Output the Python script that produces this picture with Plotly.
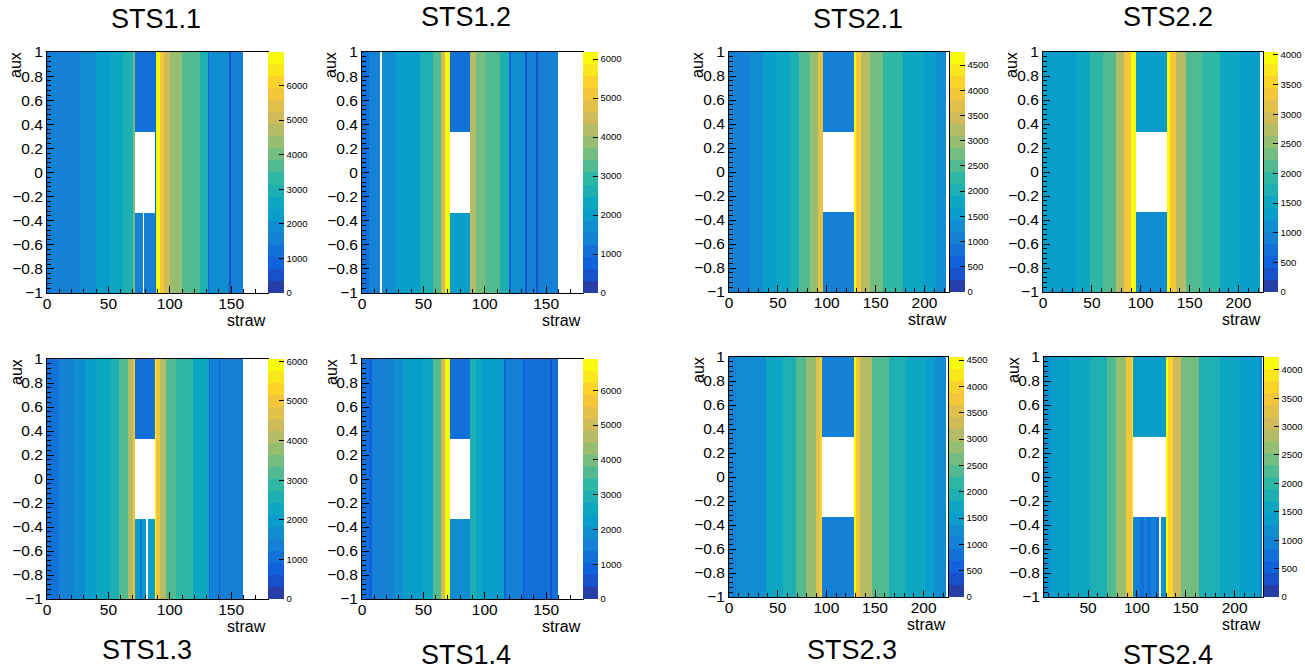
import plotly.graph_objects as go

W, H = 1305, 669

# ------------------------------------------------------------------ data
titles = ["STS1.1", "STS1.2", "STS2.1", "STS2.2", "STS1.3", "STS1.4", "STS2.3", "STS2.4"]
aux_edges = [-1.0, -1.0 / 3.0, 1.0 / 3.0, 1.0]

# STS1.1
sts11_edges = [0, 2, 10, 27, 40, 51, 62, 70, 72, 88, 89, 92, 95, 100, 110, 125, 131, 132, 148, 150, 160, 180]
sts11_vals = [1100, 1450, 1700, 2050, 2300, 2700, 3100, 3900, None, 700, 6700, 5900, 5000, 4200, 3500, 3000,
              900, 2000, 500, 1400, None]
sts11_gap_edges = [72, 78, 79, 88]
sts11_gap_top = [1250, 1250, 1250]
sts11_gap_bottom = [1400, None, 1450]
sts11_zmax = 6970

# STS1.2
sts12_edges = [0, 6, 15, 16, 28, 47, 58, 64, 68, 72, 88, 93, 101, 112, 120, 121, 133, 134, 142, 143, 160, 180]
sts12_vals = [1150, 1500, None, 1700, 2000, 2500, 3300, 4500, 6100, None, 4300, 3600, 3100, 2500, 700, 1800,
              600, 1500, 600, 1300, None]
sts12_gap_edges = [72, 88]
sts12_gap_top = [1200]
sts12_gap_bottom = [2100]
sts12_zmax = 6180

# STS2.1
sts21_edges = [0, 21, 35, 48, 62, 72, 83, 91, 96, 128, 130, 135, 144, 158, 178, 199, 212, 222, 225]
sts21_vals = [1100, 1300, 1500, 1800, 2000, 2400, 2900, 3600, None, 4700, 4000, 3300, 2700, 2200, 1800, 1500,
              1200, None]
sts21_gap_edges = [96, 128]
sts21_gap_top = [1000]
sts21_gap_bottom = [1000]
sts21_zmax = 4760

# STS2.2
sts22_edges = [0, 7, 34, 48, 61, 75, 83, 90, 95, 127, 130, 136, 146, 163, 181, 201, 222, 225]
sts22_vals = [1250, 1300, 1600, 1900, 2200, 2700, 3300, 3900, None, 3900, 3300, 2700, 2200, 1900, 1600, 1250, None]
sts22_gap_edges = [95, 127]
sts22_gap_top = [1300]
sts22_gap_bottom = [1100]
sts22_zmax = 4050

# STS1.3
sts13_edges = [0, 9, 21, 31, 40, 51, 59, 66, 70, 72, 88, 89, 92, 97, 105, 119, 132, 133, 140, 141, 160, 180]
sts13_vals = [1200, 1500, 1700, 2000, 2300, 2700, 3200, 4000, 5000, None, 6000, 5000, 4000, 3300, 2800, 2300,
              900, 1500, 900, 1300, None]
sts13_gap_edges = [72, 76, 77, 81, 82, 88]
sts13_gap_top = [1100, 1100, 1100, 1100, 1100]
sts13_gap_bottom = [2100, 1000, 1900, None, 2100]
sts13_zmax = 6060

# STS1.4
sts14_edges = [0, 6, 8, 25, 33, 50, 58, 64, 68, 72, 88, 93, 98, 116, 117, 131, 133, 153, 155, 160, 180]
sts14_vals = [1200, 800, 1500, 1800, 2200, 2700, 3500, 5000, 6800, None, 2900, 2500, 2200, 700, 1600, 700,
              1300, 600, 1300, None]
sts14_gap_edges = [72, 88]
sts14_gap_top = [1200]
sts14_gap_bottom = [1800]
sts14_zmax = 6900

# STS2.3
sts23_edges = [0, 7, 25, 38, 55, 69, 79, 89, 94, 96, 128, 130, 135, 147, 164, 182, 202, 212, 223, 225]
sts23_vals = [1000, 1150, 1350, 1600, 1900, 2300, 2800, 3500, 4000, None, 4500, 3800, 3000, 2400, 2000, 1700,
              1500, 1200, None]
sts23_gap_edges = [96, 128]
sts23_gap_top = [1000]
sts23_gap_bottom = [1000]
sts23_zmax = 4560

# STS2.4
sts24_edges = [5, 11, 31, 52, 69, 79, 89, 95, 96.5, 129.5, 132, 137, 145, 164, 185, 205, 225.5, 227.5, 229]
sts24_vals = [1100, 1300, 1500, 1800, 2200, 2700, 3400, 4000, None, 4200, 3600, 3000, 2400, 1900, 1600, 1300,
              1000, None]
sts24_gap_edges = [96.5, 103, 107, 110, 114, 120, 123, 125, 129.5]
sts24_gap_top = [1300, 1300, 1300, 1300, 1300, 1300, 1300, 1300]
sts24_gap_bottom = [950, 650, 950, 650, 950, 650, None, 1100]
sts24_zmax = 4225

panels_data = [
    (sts11_edges, sts11_vals, sts11_gap_edges, sts11_gap_top, sts11_gap_bottom, sts11_zmax),
    (sts12_edges, sts12_vals, sts12_gap_edges, sts12_gap_top, sts12_gap_bottom, sts12_zmax),
    (sts21_edges, sts21_vals, sts21_gap_edges, sts21_gap_top, sts21_gap_bottom, sts21_zmax),
    (sts22_edges, sts22_vals, sts22_gap_edges, sts22_gap_top, sts22_gap_bottom, sts22_zmax),
    (sts13_edges, sts13_vals, sts13_gap_edges, sts13_gap_top, sts13_gap_bottom, sts13_zmax),
    (sts14_edges, sts14_vals, sts14_gap_edges, sts14_gap_top, sts14_gap_bottom, sts14_zmax),
    (sts23_edges, sts23_vals, sts23_gap_edges, sts23_gap_top, sts23_gap_bottom, sts23_zmax),
    (sts24_edges, sts24_vals, sts24_gap_edges, sts24_gap_top, sts24_gap_bottom, sts24_zmax),
]

# ------------------------------------------------------------------ layout (pixel boxes)
# (plot x0, plot x1, plot y0(top), plot y1(bottom), colorbar x0, colorbar x1, x range, cbar dtick)
boxes = [
    (47, 268, 52, 293, 268, 284, [0, 180], 1000),
    (362, 583, 52, 293, 583, 598, [0, 180], 1000),
    (729, 949, 52, 292, 950, 965, [0, 225], 500),
    (1043, 1263, 52, 292, 1264, 1278, [0, 225], 500),
    (47, 268, 359, 599, 268, 284, [0, 180], 1000),
    (362, 583, 359, 599, 583, 598, [0, 180], 1000),
    (729, 948, 357, 597, 949, 964, [0, 225], 500),
    (1044, 1263, 357, 597, 1264, 1279, [5, 229], 500),
]
title_pos = [(156, 19), (466, 17), (858, 19), (1168, 17), (147, 650), (466, 655), (852, 650), (1168, 655)]

# ------------------------------------------------------------------ kBird palette, 20 contour levels
b_stops = [0.0, 0.125, 0.25, 0.375, 0.5, 0.625, 0.75, 0.875, 1.0]
b_red = [0.2082, 0.0592, 0.0780, 0.0232, 0.1802, 0.5301, 0.8186, 0.9956, 0.9764]
b_green = [0.1664, 0.3599, 0.5041, 0.6419, 0.7178, 0.7492, 0.7328, 0.7862, 0.9832]
b_blue = [0.5293, 0.8684, 0.8385, 0.7914, 0.6425, 0.4662, 0.3499, 0.1968, 0.0539]


def bird(t):
    for k in range(len(b_stops) - 1):
        if t <= b_stops[k + 1] or k == len(b_stops) - 2:
            f = (t - b_stops[k]) / (b_stops[k + 1] - b_stops[k])
            r = b_red[k] + f * (b_red[k + 1] - b_red[k])
            g = b_green[k] + f * (b_green[k + 1] - b_green[k])
            b = b_blue[k] + f * (b_blue[k + 1] - b_blue[k])
            return "rgb(%d,%d,%d)" % (round(r * 255), round(g * 255), round(b * 255))


NCONT = 20
colorscale = []
for i in range(NCONT):
    idx = int((i + 0.99) * 255 / NCONT)
    c = bird(idx / 254.0)
    colorscale.append([i / NCONT, c])
    colorscale.append([(i + 1) / NCONT, c])


def seg_index(edges, m):
    for k in range(len(edges) - 1):
        if edges[k] <= m < edges[k + 1]:
            return k
    return None


def build(edges, vals, gedges, gtop, gbot):
    allx = sorted(set(edges) | set(gedges))
    bot, mid, top = [], [], []
    for a, b in zip(allx[:-1], allx[1:]):
        m = 0.5 * (a + b)
        if gedges[0] <= m < gedges[-1]:
            k = seg_index(gedges, m)
            bot.append(gbot[k]); mid.append(None); top.append(gtop[k])
        else:
            k = seg_index(edges, m)
            v = vals[k] if k is not None else None
            bot.append(v); mid.append(v); top.append(v)
    return allx, [bot, mid, top]


FONT = "Liberation Sans, Arial, Helvetica, sans-serif"
fig = go.Figure()
annotations = []
layout = dict(
    width=W, height=H, margin=dict(l=0, r=0, t=0, b=0, autoexpand=False),
    paper_bgcolor="white", plot_bgcolor="white", showlegend=False,
    font=dict(family=FONT, color="black"),
)

for i, (pdata, box, title, tpos) in enumerate(zip(panels_data, boxes, titles, title_pos)):
    edges, vals, gedges, gtop, gbot, zmax = pdata
    x0, x1, y0, y1, cx0, cx1, xr, cdt = box
    xs, z = build(edges, vals, gedges, gtop, gbot)
    n = "" if i == 0 else str(i + 1)
    fig.add_trace(go.Heatmap(
        x=xs, y=aux_edges, z=z, zmin=0, zmax=zmax, colorscale=colorscale,
        xaxis="x" + n, yaxis="y" + n, hoverongaps=False,
        colorbar=dict(
            x=cx0 / W, xanchor="left", y=1 - (y0 + y1) / 2 / H, yanchor="middle",
            len=(y1 - y0) / H, lenmode="fraction", thickness=cx1 - cx0, thicknessmode="pixels",
            xpad=0, ypad=0, outlinewidth=0, ticks="inside", ticklen=5, tickcolor="black",
            tick0=0, dtick=cdt, tickfont=dict(size=9.5, family=FONT, color="black"),
        ),
    ))
    layout["xaxis" + n] = dict(
        domain=[x0 / W, x1 / W], range=xr, anchor="y" + n, showline=True, linecolor="black",
        linewidth=1, mirror=True, ticks="inside", ticklen=7, tickcolor="black", tick0=0, dtick=50,
        minor=dict(dtick=10, ticks="inside", ticklen=4, tickcolor="black"),
        showgrid=False, zeroline=False, ticklabelstandoff=-4,
        tickfont=dict(size=15.5, family=FONT, color="black"),
    )
    layout["yaxis" + n] = dict(
        domain=[1 - y1 / H, 1 - y0 / H], range=[-1, 1], anchor="x" + n, showline=True, linecolor="black",
        linewidth=1, mirror=True, ticks="inside", ticklen=7, tickcolor="black", tick0=0, dtick=0.2,
        minor=dict(dtick=0.04, ticks="inside", ticklen=3.5, tickcolor="black"),
        showgrid=False, zeroline=False, tickfont=dict(size=15.5, family=FONT, color="black"),
    )
    annotations.append(dict(text=title, x=tpos[0] / W, y=1 - tpos[1] / H, xref="paper", yref="paper",
                            xanchor="center", yanchor="middle", showarrow=False,
                            font=dict(size=27, family=FONT, color="black")))
    annotations.append(dict(text="aux", x=(x0 - 31) / W, y=1 - (y0 + 13) / H, xref="paper", yref="paper",
                            xanchor="center", yanchor="middle", textangle=-90, showarrow=False,
                            font=dict(size=16, family=FONT, color="black")))
    annotations.append(dict(text="straw", x=x1 / W, y=1 - (y1 + 27) / H, xref="paper", yref="paper",
                            xanchor="right", yanchor="middle", showarrow=False,
                            font=dict(size=16, family=FONT, color="black")))

layout["annotations"] = annotations
fig.update_layout(**layout)
fig.write_html("out.html", config={"displayModeBar": False},
               post_script="document.body.style.margin='0px';document.body.style.padding='0px';")
